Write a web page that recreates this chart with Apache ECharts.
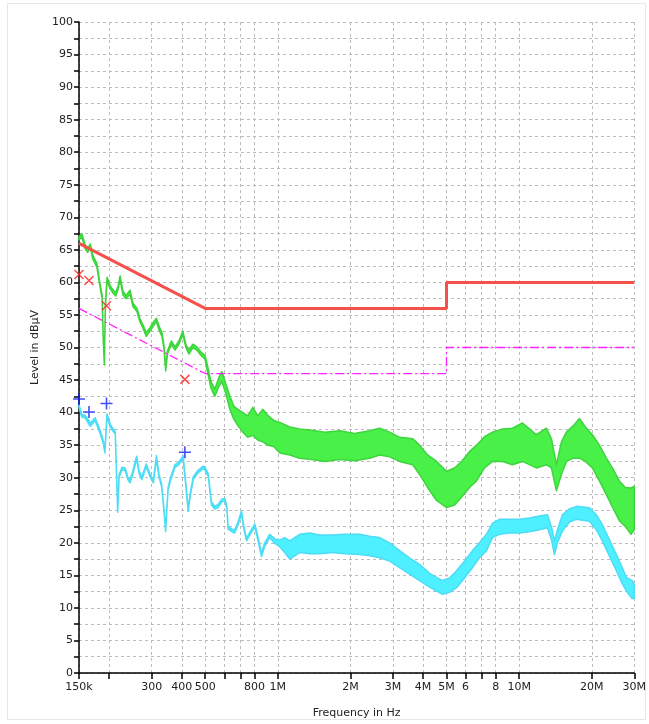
<!DOCTYPE html>
<html>
<head>
<meta charset="utf-8">
<script src="https://cdn.jsdelivr.net/npm/echarts@6/dist/echarts.min.js"></script>
<style>
html, body { margin: 0; padding: 0; background: #fff; }
#chart { width: 649px; height: 724px; }
</style>
</head>
<body>
<div id="chart"></div>
<script>
// frequencies in kHz, levels in dBµV
var tickFreq = [150, 200, 300, 400, 500, 600, 700, 800, 1000, 2000, 3000, 4000, 5000, 6000, 7000, 8000, 10000, 20000, 30000];
var labelFreq = [150, 300, 400, 500, 800, 1000, 2000, 3000, 4000, 5000, 6000, 8000, 10000, 20000, 30000];
var labelText = ['150k', '300', '400', '500', '800', '1M', '2M', '3M', '4M', '5M', '6', '8', '10M', '20M', '30M'];

var limitFreq = [150, 500, 5000, 5000, 30000];
var qpLimit = [66, 56, 56, 60, 60];
var avLimit = [56, 46, 46, 50, 50];

var qpPeakFreq = [150, 165, 195, 412];
var qpPeakLevel = [61.2, 60.3, 56.4, 45.1];
var avPeakFreq = [150, 165, 195, 412];
var avPeakLevel = [42.1, 40.1, 41.4, 33.9];

// green trace: upper / lower edge of the scan
var greenFreq = [150, 154, 159, 163, 167, 171, 178, 183, 187, 189, 191, 193, 196, 202, 207, 213, 218, 222, 228, 235,
  244, 251, 261, 268, 276, 285, 295, 304, 314, 322, 331, 337, 343, 349, 362, 375, 389, 404, 416, 428,
  445, 462, 480, 499, 513, 528, 548, 570, 586, 609, 633, 657, 683, 716, 751, 788, 826, 866, 909, 962,
  1019, 1121, 1232, 1382, 1564, 1805, 2082, 2402, 2643, 2907, 3197, 3618, 3867, 4175, 4549, 5004, 5401, 5772, 6230, 6660,
  7188, 7758, 8533, 9385, 10321, 11035, 11796, 12974, 13607, 14277, 14972, 15702, 16787, 17775, 18820, 20119, 21507, 22989, 24345, 26024,
  27555, 29093, 30000];
var greenHi = [67.0, 67.5, 65.8, 65.2, 65.9, 64.2, 62.9, 60.0, 58.0, 51.8, 47.9, 56.8, 60.8, 59.5, 58.9, 58.4, 59.5, 61.0, 58.7, 58.0,
  58.8, 56.8, 56.0, 54.5, 53.5, 52.3, 53.0, 53.8, 54.5, 53.3, 52.3, 50.5, 47.0, 49.5, 51.0, 50.1, 51.0, 52.5, 50.5, 49.6,
  50.5, 50.1, 49.3, 48.8, 47.0, 44.8, 43.6, 45.4, 46.3, 44.4, 42.5, 41.0, 40.5, 40.0, 39.5, 40.8, 39.5, 40.5, 39.6, 38.8,
  38.5, 37.8, 37.5, 37.3, 37.0, 37.2, 36.8, 37.2, 37.6, 37.0, 36.2, 36.0, 35.0, 33.5, 32.5, 31.0, 31.5, 32.5, 34.0, 35.0,
  36.3, 37.0, 37.5, 37.6, 38.4, 37.5, 36.6, 37.6, 36.0, 32.0, 35.5, 37.0, 38.0, 39.1, 37.8, 36.6, 35.0, 33.0, 31.5, 29.5,
  28.5, 28.4, 28.7];
var greenLo = [66.5, 67.0, 65.2, 64.6, 65.4, 63.6, 62.3, 59.5, 57.5, 51.2, 47.3, 56.2, 60.2, 59.0, 58.4, 57.9, 59.0, 60.5, 58.1, 57.5,
  58.2, 56.3, 55.5, 54.0, 53.0, 51.7, 52.5, 53.2, 54.0, 52.7, 51.7, 50.0, 46.4, 49.0, 50.5, 49.6, 50.5, 52.0, 50.0, 49.0,
  50.0, 49.6, 48.8, 48.2, 46.0, 43.8, 42.5, 44.0, 44.8, 42.9, 40.5, 39.0, 38.0, 37.0, 36.2, 36.5, 35.8, 35.5, 35.0, 34.8,
  33.8, 33.5, 33.0, 32.8, 32.5, 32.8, 32.6, 33.0, 33.5, 33.2, 32.5, 32.0, 30.5, 28.5, 26.5, 25.4, 25.8, 27.0, 28.5, 29.5,
  31.5, 32.5, 32.5, 32.0, 32.5, 32.0, 31.5, 32.0, 31.5, 28.0, 30.5, 32.5, 33.0, 33.0, 32.5, 31.5, 29.5, 27.4, 25.5, 23.4,
  22.5, 21.3, 22.0];

// cyan trace: upper / lower edge of the scan
var cyanFreq = [150, 154, 159, 167, 175, 183, 189, 192, 196, 202, 207, 212, 217, 220, 226, 233, 239, 244, 251, 260,
  266, 273, 279, 285, 295, 305, 314, 322, 330, 337, 343, 347, 351, 360, 375, 389, 405, 416, 425, 434,
  446, 466, 491, 499, 515, 531, 548, 566, 586, 603, 615, 622, 645, 663, 683, 707, 723, 742, 765, 803,
  826, 856, 883, 926, 971, 1019, 1068, 1121, 1232, 1356, 1491, 1688, 1893, 2184, 2402, 2643, 2907, 3197, 3516, 3867,
  4256, 4549, 4817, 5148, 5505, 5941, 6411, 6851, 7326, 7758, 8292, 9120, 10034, 11035, 12138, 13098, 13607, 14008, 14414, 15115,
  16160, 17274, 19551, 20901, 22130, 23657, 25290, 26522, 27816, 29453, 30000];
var cyanHi = [41.2, 39.7, 39.6, 38.4, 39.2, 37.4, 35.7, 34.2, 39.8, 38.2, 37.6, 37.1, 25.2, 30.5, 31.6, 31.5, 30.1, 29.6, 31.1, 33.3,
  31.1, 30.1, 31.1, 32.1, 30.6, 29.6, 33.4, 30.5, 29.0, 25.5, 22.1, 25.5, 28.5, 30.1, 32.0, 32.4, 33.4, 29.1, 25.3, 27.7,
  30.1, 31.1, 31.8, 31.6, 30.6, 26.3, 25.6, 25.9, 26.7, 26.8, 25.6, 22.6, 22.1, 22.0, 23.1, 24.9, 22.5, 20.7, 21.6, 22.9,
  21.0, 18.4, 20.0, 21.3, 20.6, 20.4, 20.8, 20.3, 21.3, 21.5, 21.2, 21.2, 21.3, 21.3, 21.0, 20.8, 20.0, 18.8, 17.7, 16.7,
  15.3, 14.7, 14.2, 14.6, 15.7, 17.2, 18.8, 20.0, 21.3, 23.0, 23.6, 23.6, 23.6, 23.8, 24.1, 24.3, 22.5, 20.3, 22.0, 24.3,
  25.2, 25.6, 25.4, 24.3, 22.8, 20.5, 18.2, 16.5, 14.7, 14.2, 13.5];
var cyanLo = [40.8, 39.3, 39.2, 37.9, 38.8, 36.9, 35.3, 33.8, 39.4, 37.8, 37.2, 36.7, 24.7, 30.1, 31.2, 31.1, 29.7, 29.2, 30.6, 32.9,
  30.7, 29.7, 30.7, 31.7, 30.2, 29.2, 32.9, 30.1, 28.6, 25.1, 21.7, 25.1, 28.1, 29.7, 31.6, 32.0, 33.0, 28.6, 24.8, 27.3,
  29.7, 30.7, 31.4, 31.2, 30.2, 25.8, 25.2, 25.4, 26.3, 26.4, 25.2, 22.1, 21.7, 21.5, 22.7, 24.4, 22.1, 20.3, 21.2, 22.4,
  20.5, 17.9, 19.5, 20.8, 19.9, 19.4, 18.5, 17.5, 18.5, 18.3, 18.3, 18.5, 18.3, 18.2, 18.0, 17.7, 17.2, 16.2, 15.2, 14.2,
  13.2, 12.6, 12.1, 12.4, 13.1, 14.6, 16.2, 17.7, 18.8, 20.8, 21.3, 21.5, 21.5, 21.7, 22.0, 22.3, 20.5, 18.2, 20.0, 21.8,
  23.2, 23.6, 23.3, 22.0, 20.3, 18.0, 15.7, 14.0, 12.6, 11.4, 11.5];

function lg(f) { return Math.log10(f); }
function pairs(freq, vals) {
  return freq.map(function(f, i) { return [lg(f), vals[i]]; });
}

// band between lower and upper edge, drawn through the axes
function bandSeries(freq, hi, lo, fill, stroke) {
  return {
    type: 'custom',
    z: 2,
    silent: true,
    data: [[lg(freq[0]), hi[0]]],
    renderItem: function(params, api) {
      var pts = [];
      for (var i = 0; i < freq.length; i++) pts.push(api.coord([lg(freq[i]), hi[i]]));
      for (var j = freq.length - 1; j >= 0; j--) pts.push(api.coord([lg(freq[j]), lo[j]]));
      return {
        type: 'polygon',
        shape: { points: pts },
        style: { fill: fill, stroke: stroke, lineWidth: 1.5, lineJoin: 'round' }
      };
    }
  };
}

var chart = echarts.init(document.getElementById('chart'));
var font = 'DejaVu Sans';
var crossPath = 'path://M0,0L10,10M10,0L0,10';
var plusPath = 'path://M5,0L5,10M0,5L10,5';

var option = {
  animation: false,
  backgroundColor: '#fff',
  textStyle: { fontFamily: font },
  graphic: [{
    type: 'rect', silent: true, z: -10,
    shape: { x: 7.5, y: 3.5, width: 638, height: 716 },
    style: { fill: 'none', stroke: '#e6e6e6', lineWidth: 1 }
  }],
  grid: { left: 79, right: 14, top: 22, bottom: 48 },
  xAxis: {
    type: 'value',
    min: lg(150),
    max: lg(30000),
    name: 'Frequency in Hz',
    nameLocation: 'middle',
    nameGap: 35,
    nameTextStyle: { color: '#222', fontSize: 11, fontFamily: font },
    axisLine: { lineStyle: { color: '#000', width: 1.5 } },
    axisTick: {
      length: 6,
      lineStyle: { color: '#000', width: 1.5 },
      customValues: tickFreq.map(lg)
    },
    axisLabel: {
      color: '#222',
      fontSize: 11,
      margin: 9,
      customValues: labelFreq.map(lg),
      formatter: function(v) {
        for (var i = 0; i < labelFreq.length; i++) {
          if (Math.abs(lg(labelFreq[i]) - v) < 1e-6) return labelText[i];
        }
        return '';
      }
    },
    splitLine: { show: true, lineStyle: { color: '#bcbcbc', type: [3, 3], width: 1 } }
  },
  yAxis: {
    type: 'value',
    min: 0,
    max: 100,
    interval: 2.5,
    name: 'Level in dBµV',
    nameLocation: 'middle',
    nameGap: 36,
    nameTextStyle: { color: '#222', fontSize: 11, fontFamily: font },
    axisLine: { show: true, lineStyle: { color: '#000', width: 1.5 } },
    axisTick: { show: true, length: 5, lineStyle: { color: '#000', width: 1.5 } },
    axisLabel: {
      color: '#222',
      fontSize: 11,
      margin: 6,
      formatter: function(v) { return v % 5 === 0 ? String(v) : ''; }
    },
    splitLine: { show: true, lineStyle: { color: '#bcbcbc', type: [3, 3], width: 1 } }
  },
  series: [
    bandSeries(greenFreq, greenHi, greenLo, '#48f048', '#3ed43e'),
    bandSeries(cyanFreq, cyanHi, cyanLo, '#4ef0ff', '#4cdcf6'),
    {
      name: 'AV limit', type: 'line', showSymbol: false, z: 3,
      lineStyle: { color: '#ff22ff', width: 1.3, type: [9, 3, 2, 3] },
      data: pairs(limitFreq, avLimit)
    },
    {
      name: 'QP limit', type: 'line', showSymbol: false, z: 4,
      lineStyle: { color: '#f5504a', width: 3 },
      data: pairs(limitFreq, qpLimit)
    },
    {
      name: 'QP peaks', type: 'scatter', z: 5,
      symbol: crossPath, symbolSize: 9,
      itemStyle: { color: 'rgba(0,0,0,0)', borderColor: '#ff2020', borderWidth: 1.5 },
      data: pairs(qpPeakFreq, qpPeakLevel)
    },
    {
      name: 'AV peaks', type: 'scatter', z: 5,
      symbol: plusPath, symbolSize: 12,
      itemStyle: { color: 'rgba(0,0,0,0)', borderColor: '#1020ff', borderWidth: 1.6 },
      data: pairs(avPeakFreq, avPeakLevel)
    }
  ]
};

chart.setOption(option);
</script>
</body>
</html>
